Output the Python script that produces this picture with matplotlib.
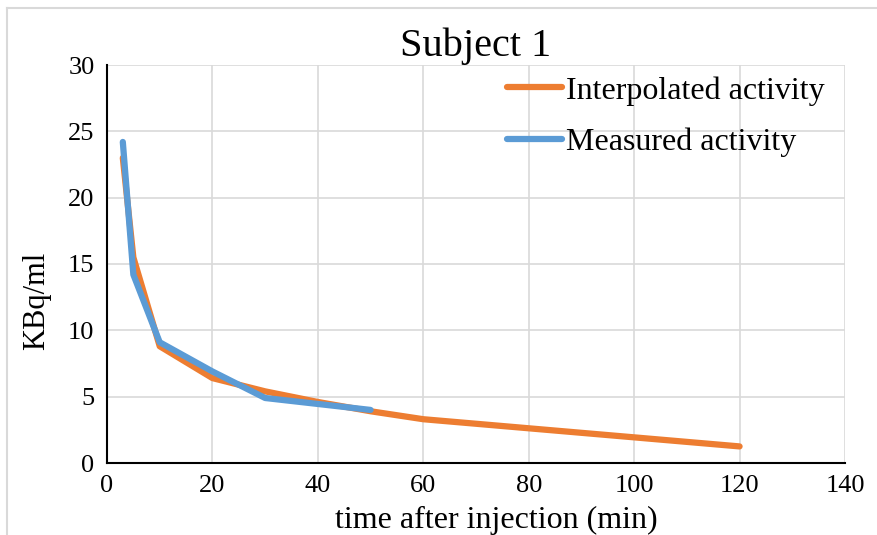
import matplotlib
matplotlib.use('Agg')
import matplotlib.pyplot as plt
from matplotlib.lines import Line2D

# Werte
t_interp = [3, 5, 10, 20, 30, 40, 50, 60, 120]
a_interp = [23.0, 15.5, 8.8, 6.4, 5.4, 4.6, 3.9, 3.3, 1.25]
t_meas = [3, 5, 10, 20, 30, 50]
a_meas = [24.2, 14.2, 9.1, 6.9, 4.9, 4.0]

orange = '#ED7D31'
blue = '#5B9BD5'
grid_col = '#D9D9D9'

plt.rcParams['font.family'] = ['Liberation Serif', 'DejaVu Serif']

fig = plt.figure(figsize=(8.77, 5.35), dpi=100)
ax = fig.add_axes([107 / 877, 72 / 535, 738 / 877, 398 / 535])

ax.plot(t_interp, a_interp, color=orange, linewidth=4.5, solid_capstyle='round',
        solid_joinstyle='round', label='Interpolated activity', zorder=3)
ax.plot(t_meas, a_meas, color=blue, linewidth=4.5, solid_capstyle='round',
        solid_joinstyle='round', label='Measured activity', zorder=4)

ax.set_xlim(0, 140)
ax.set_ylim(0, 30)
ax.set_xticks(range(0, 141, 20))
ax.set_yticks(range(0, 31, 5))
ax.grid(True, color=grid_col, linewidth=1.2)
ax.set_axisbelow(True)
for s in ['top', 'right']:
    ax.spines[s].set_visible(False)
for s in ['left', 'bottom']:
    ax.spines[s].set_linewidth(1.5)
    ax.spines[s].set_zorder(5)
ax.tick_params(length=0, labelsize=19)
ax.tick_params(axis='x', pad=9)
ax.tick_params(axis='y', pad=9)

ax.set_xlabel('time after injection (min)', fontsize=23, va='top')
ax.xaxis.set_label_coords(0.528, -0.108)
ax.set_ylabel('KBq/ml', fontsize=22)
ax.yaxis.set_label_coords(-0.076, 0.407)
ax.set_title('Subject 1', fontsize=29, pad=6)

ax.legend(loc='upper left', bbox_to_anchor=(507 / 877, 1 - 76 / 535),
          bbox_transform=fig.transFigure, frameon=False, fontsize=23,
          borderpad=0, borderaxespad=0, handlelength=1.72, handletextpad=0.12,
          labelspacing=0.68)

# heller Rahmen des Diagramms
fig.add_artist(Line2D([7 / 877, 7 / 877], [0, 1 - 8 / 535], color=grid_col, linewidth=1.5))
fig.add_artist(Line2D([7 / 877, 1], [1 - 8 / 535, 1 - 8 / 535], color=grid_col, linewidth=1.5))

fig.savefig('out.png', dpi=100)
